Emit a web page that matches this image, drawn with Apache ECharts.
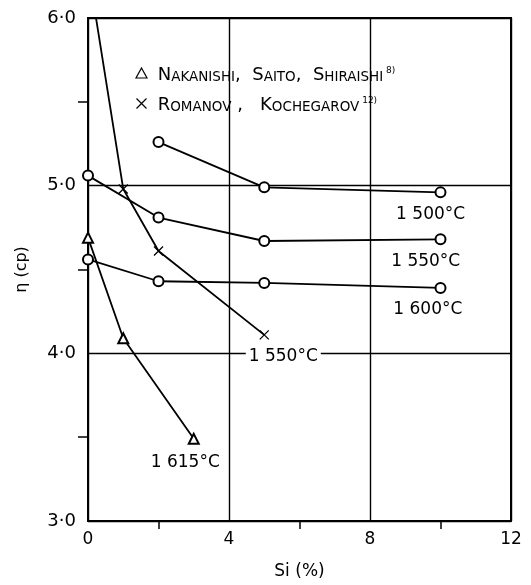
<!DOCTYPE html>
<html>
<head>
<meta charset="utf-8">
<script src="https://cdn.jsdelivr.net/npm/echarts@6/dist/echarts.min.js"></script>
<style>
  html, body { margin: 0; padding: 0; background: #fff; }
  #main { width: 531px; height: 585px; }
</style>
</head>
<body>
<div id="main"></div>
<script>
// Si (%) on x, viscosity (cp) on y
const nakanishiSi = [0, 1, 3];
const nakanishiEta = [4.69, 4.09, 3.49];

const romanovSi = [0, 1, 2, 5];
const romanovEta = [6.3, 4.98, 4.61, 4.11];

const si1500 = [2, 5, 10];
const eta1500 = [5.26, 4.99, 4.96];
const si1550 = [0, 2, 5, 10];
const eta1550 = [5.06, 4.81, 4.67, 4.68];
const si1600 = [0, 2, 5, 10];
const eta1600 = [4.56, 4.43, 4.42, 4.39];

const xTicks = [0, 4, 8, 12];
const yTicks = [3, 4, 5, 6];

const FONT = 'DejaVu Sans';
const crossPath = 'path://M0,0L10,10M10,0L0,10';

function pairs(xs, ys) {
  return xs.map((x, i) => [x, ys[i]]);
}

function tempLabel(text, coord, bg) {
  return {
    silent: true,
    animation: false,
    data: [{
      coord: coord,
      symbol: 'circle',
      symbolSize: 1,
      itemStyle: { color: 'rgba(0,0,0,0)' },
      label: {
        show: true,
        position: 'inside',
        formatter: text,
        color: '#000',
        fontFamily: FONT,
        fontSize: 17,
        backgroundColor: bg || 'transparent',
        padding: [1, 3]
      }
    }]
  };
}

const lineStyle = { color: '#000', width: 1.8 };
const emptyStyle = { color: '#000', borderColor: '#000', borderWidth: 1.4 };

const chart = echarts.init(document.getElementById('main'));
chart.setOption({
  animation: false,
  backgroundColor: '#fff',
  grid: {
    left: 88, right: 20, top: 18, bottom: 59,
    show: true, borderColor: '#000', borderWidth: 2,
    backgroundColor: 'transparent'
  },
  legend: {
    orient: 'vertical',
    left: 129, top: 61,
    itemGap: 12,
    itemWidth: 11, itemHeight: 10,
    data: [
      { name: 'Nakanishi', icon: 'triangle',
        itemStyle: { color: '#fff', borderColor: '#000', borderWidth: 1.2 } },
      { name: 'Romanov', icon: crossPath,
        itemStyle: { color: 'none', borderColor: '#000', borderWidth: 1.2 } }
    ],
    formatter: function (name) {
      if (name === 'Nakanishi') {
        return '{c| N}{s|AKANISHI}{c|,  S}{s|AITO}{c|,  S}{s|HIRAISHI}{sup| 8)}';
      }
      return '{c| R}{s|OMANOV}{c| ,   K}{s|OCHEGAROV}{sup| 12)}';
    },
    textStyle: {
      fontFamily: FONT,
      color: '#000',
      rich: {
        c: { fontSize: 18, fontFamily: FONT, verticalAlign: 'bottom', lineHeight: 22 },
        s: { fontSize: 13.5, fontFamily: FONT, verticalAlign: 'bottom', lineHeight: 22 },
        sup: { fontSize: 9, fontFamily: FONT, verticalAlign: 'bottom', lineHeight: 12, padding: [0, 0, 9, 0] }
      }
    }
  },
  xAxis: {
    type: 'value',
    min: xTicks[0], max: xTicks[xTicks.length - 1], interval: 4,
    name: 'Si (%)',
    nameLocation: 'middle',
    nameGap: 42,
    nameTextStyle: { fontFamily: FONT, fontSize: 17, color: '#000' },
    axisLine: { lineStyle: { color: '#000', width: 2 } },
    axisTick: { show: false },
    minorTick: { show: true, splitNumber: 2, length: 8, lineStyle: { color: '#000', width: 1.5 } },
    axisLabel: { margin: 10, fontFamily: FONT, fontSize: 17, color: '#000' },
    splitLine: { show: true, lineStyle: { color: '#000', width: 1.4 } }
  },
  yAxis: {
    type: 'value',
    min: yTicks[0], max: yTicks[yTicks.length - 1], interval: 1,
    name: 'η (cp)',
    nameLocation: 'middle',
    nameGap: 58,
    nameRotate: 90,
    nameTextStyle: { fontFamily: FONT, fontSize: 16, color: '#000' },
    axisLine: { lineStyle: { color: '#000', width: 2 } },
    axisTick: { show: false },
    minorTick: { show: true, splitNumber: 2, length: 10, lineStyle: { color: '#000', width: 1.5 } },
    axisLabel: {
      margin: 12, fontFamily: FONT, fontSize: 18, color: '#000',
      formatter: v => v.toFixed(1).replace('.', '·')
    },
    splitLine: { show: true, lineStyle: { color: '#000', width: 1.4 } }
  },
  series: [
    {
      name: '1500', type: 'line',
      data: pairs(si1500, eta1500),
      symbol: 'emptyCircle', symbolSize: 10,
      lineStyle: lineStyle, itemStyle: emptyStyle,
      markPoint: tempLabel('1 500°C', [9.72, 4.83])
    },
    {
      name: '1550', type: 'line',
      data: pairs(si1550, eta1550),
      symbol: 'emptyCircle', symbolSize: 10,
      lineStyle: lineStyle, itemStyle: emptyStyle,
      markPoint: tempLabel('1 550°C', [9.58, 4.55])
    },
    {
      name: '1600', type: 'line',
      data: pairs(si1600, eta1600),
      symbol: 'emptyCircle', symbolSize: 10,
      lineStyle: lineStyle, itemStyle: emptyStyle,
      markPoint: tempLabel('1 600°C', [9.64, 4.26])
    },
    {
      name: 'Romanov', type: 'line',
      clip: true,
      data: pairs(romanovSi, romanovEta).map((p, i) =>
        i === 0 ? { value: p, symbol: 'none' } : p),
      symbol: crossPath, symbolSize: 9,
      lineStyle: lineStyle,
      itemStyle: { color: 'none', borderColor: '#000', borderWidth: 1.3 },
      markPoint: tempLabel('1 550°C', [5.54, 3.98], '#fff')
    },
    {
      name: 'Nakanishi', type: 'line',
      data: pairs(nakanishiSi, nakanishiEta),
      symbol: 'emptyTriangle', symbolSize: 10,
      lineStyle: lineStyle, itemStyle: emptyStyle,
      markPoint: tempLabel('1 615°C', [2.76, 3.35])
    }
  ]
});
</script>
</body>
</html>
